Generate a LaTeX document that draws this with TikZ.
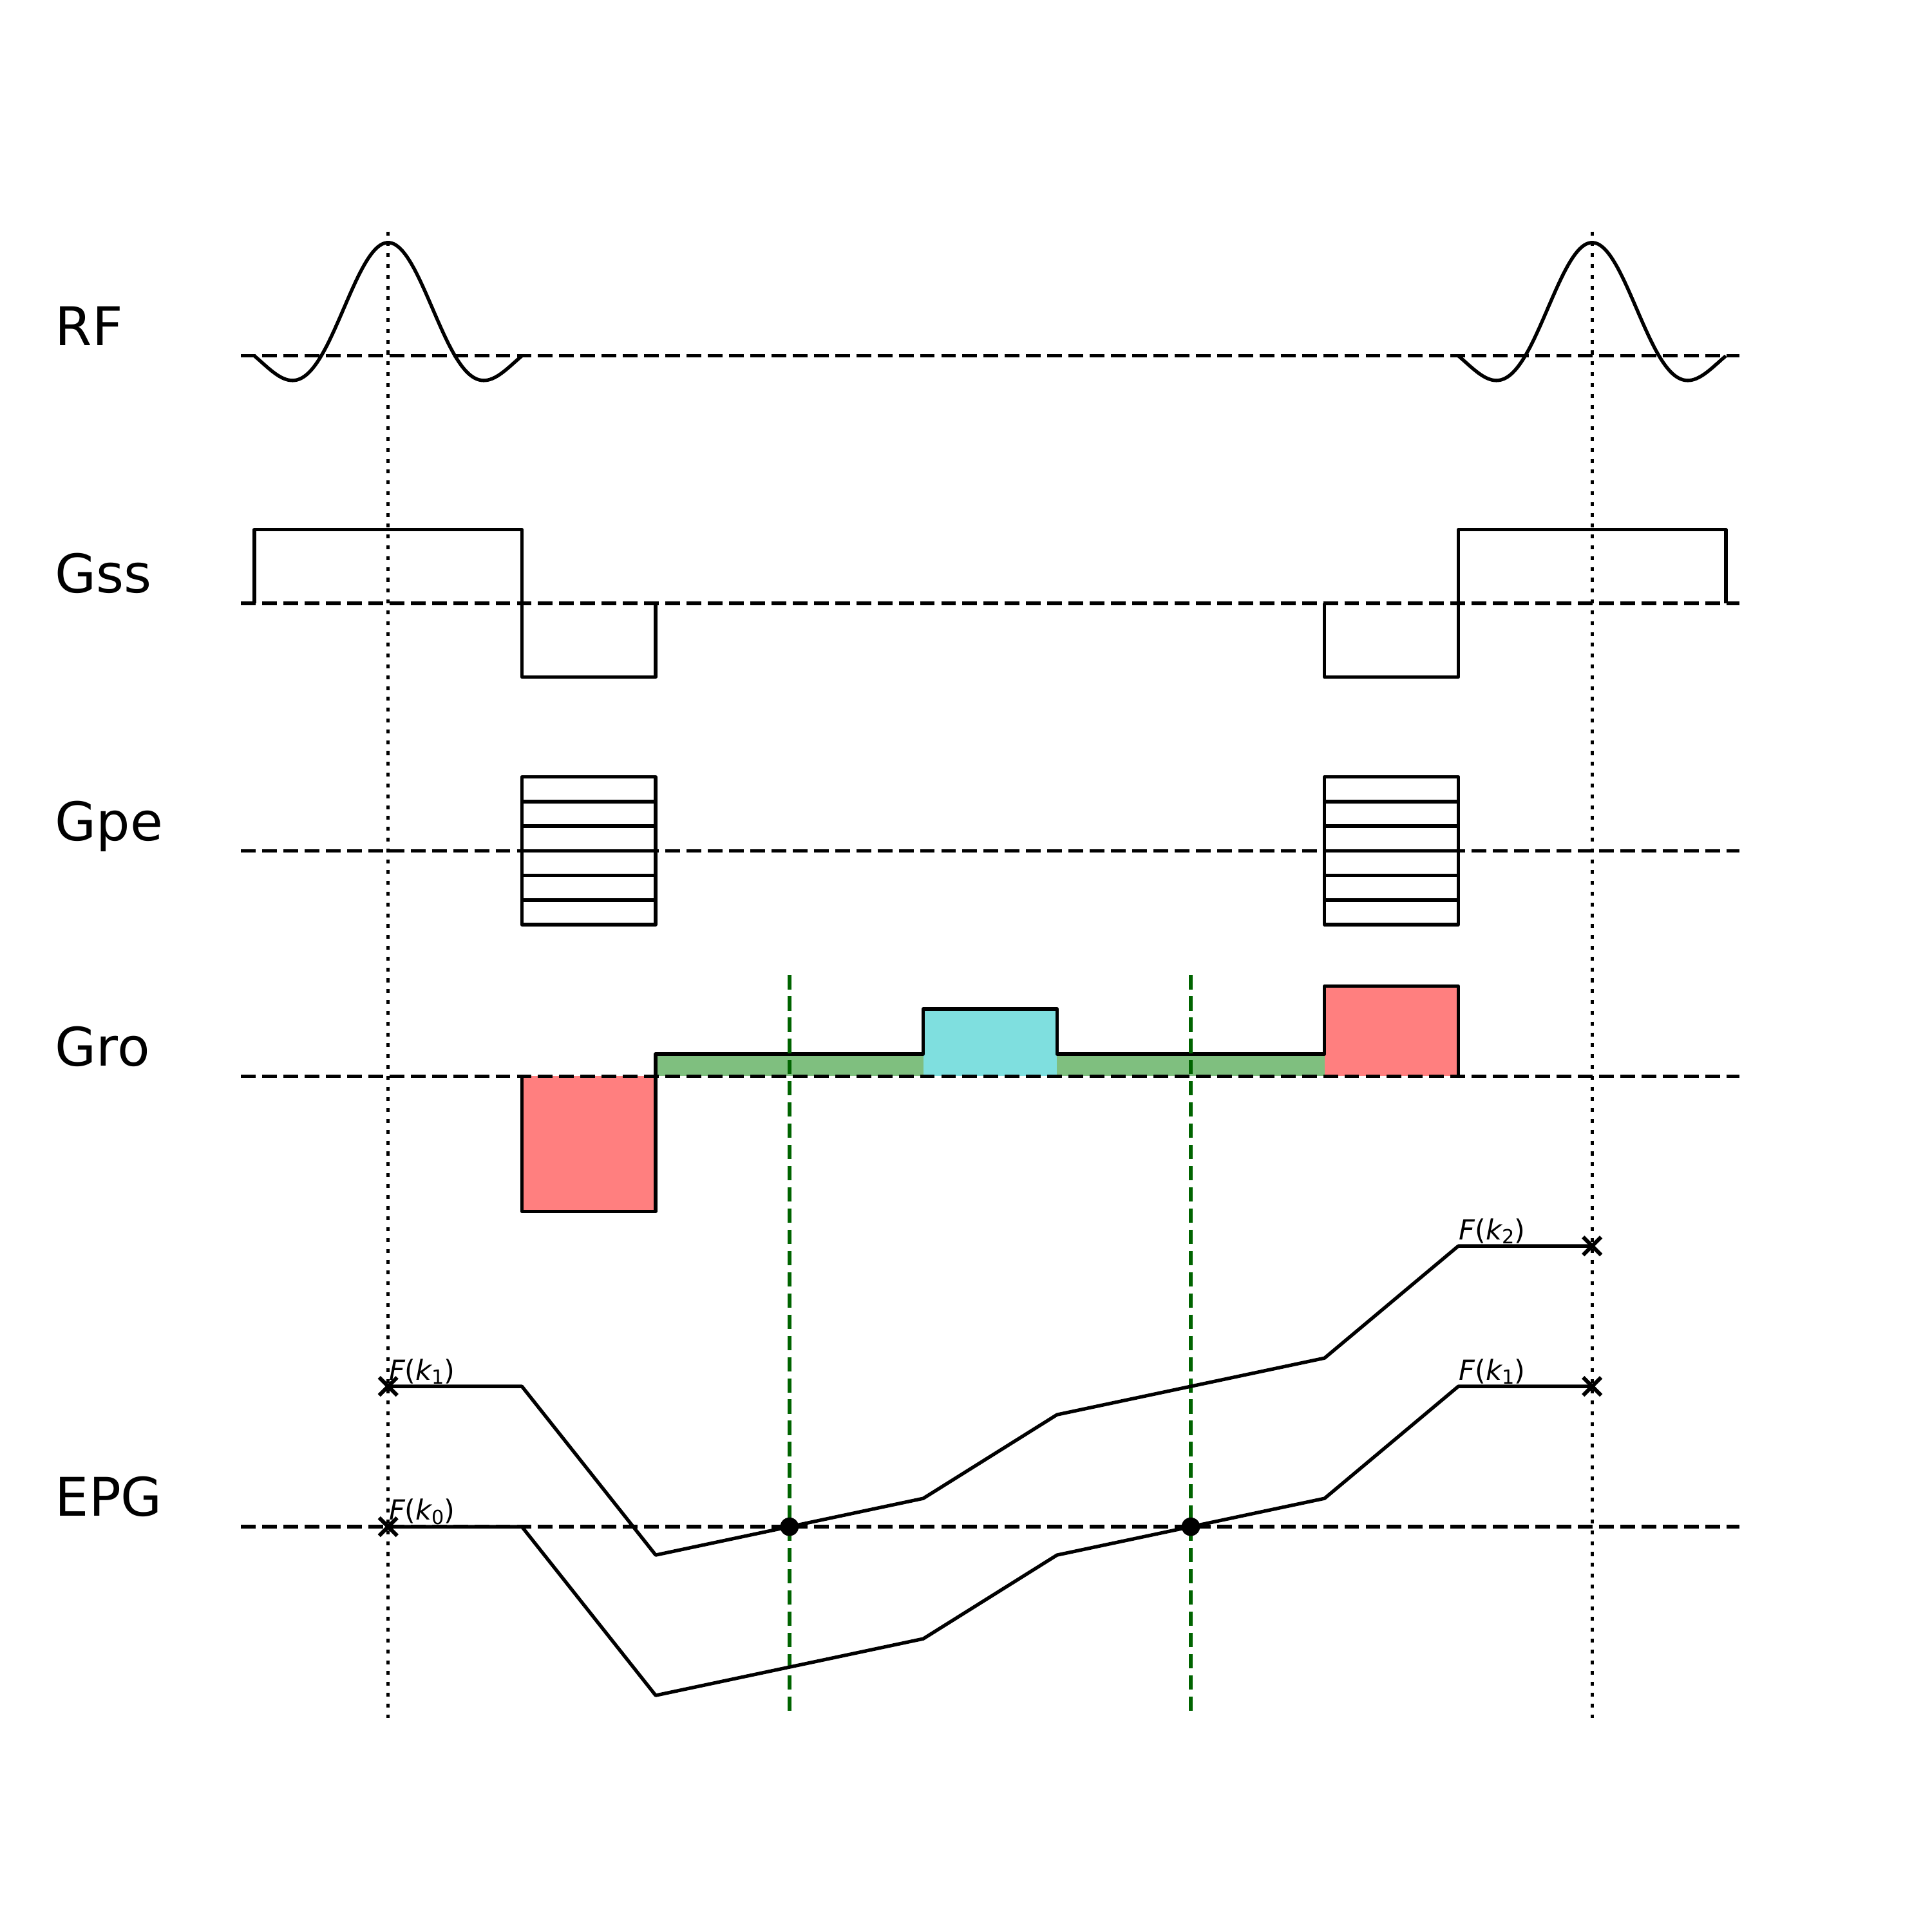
\documentclass[tikz,border=0pt]{standalone}
\usepackage{fontspec}
\setmainfont{DejaVu Sans}
\definecolor{rfill}{HTML}{FF7F7F}
\definecolor{gfill}{HTML}{7FBF7F}
\definecolor{cfill}{HTML}{7FDFDF}
\definecolor{dgreen}{HTML}{006400}
\tikzset{
  wave/.style={line width=0.8pt, line join=round},
  box/.style={line width=0.8pt, line join=round},
  axisline/.style={line width=0.8pt, dash pattern=on 3.4pt off 1.5pt},
  tline/.style={line width=0.8pt, dash pattern=on 0.9pt off 1.6pt},
  gline/.style={dgreen, line width=0.8pt, dash pattern=on 3.3pt off 1.6pt},
  mk/.style={line width=0.9pt},
  biglabel/.style={anchor=base west, inner sep=0pt, font=\fontsize{12.3}{15}\selectfont},
  smalllabel/.style={anchor=south west, inner sep=0pt, font=\fontsize{6.4}{8}\selectfont},
}
\newcommand{\Fk}[1]{{\itshape F}({\itshape k}\raisebox{-0.16em}{\fontsize{4.5}{5}\selectfont #1})}
\begin{document}
\begin{tikzpicture}
\begin{scope}[xshift=3.15cm, x=1.0857cm, y=-0.01cm]
\useasboundingbox (-2.9014,0) rectangle (11.5410,1568);

% row labels
\node[biglabel] (lRF)  at (-2.495,280.5) {RF};
\node[biglabel] (lGss) at (-2.495,481.5) {Gss};
\node[biglabel] (lGpe) at (-2.495,682.5) {Gpe};
\node[biglabel] (lGro) at (-2.495,865.5) {Gro};
\node[biglabel] (lEPG) at (-2.495,1231.5) {EPG};

% baselines
\foreach \y/\n in {289/bRF,490/bGss,691/bGpe,874/bGro,1240/bEPG}{
  \coordinate (\n a) at (-1.1,\y);
  \coordinate (\n b) at (10.1,\y);
  \draw[axisline] (\n a) -- (\n b);
}

% time markers (dotted)
\coordinate (ta) at (0,188); \coordinate (tb) at (0,1395);
\coordinate (tc) at (9,188); \coordinate (td) at (9,1395);
\draw[tline] (ta) -- (tb);
\draw[tline] (tc) -- (td);

% echo markers (green dashed)
\coordinate (ea) at (3,792); \coordinate (eb) at (3,1395);
\coordinate (ec) at (6,792); \coordinate (ed) at (6,1395);

% RF pulses
\draw[wave] plot[domain=-1:1, samples=120] (\x,{289-92*sin(360*\x)/(2*pi*\x)});
\draw[wave] plot[domain=8:10, samples=120] (\x,{289-92*sin(360*(\x-9))/(2*pi*(\x-9))});

% Gss
\draw[box] (-1,490) -- (-1,430) -- (1,430) -- (1,550) -- (2,550) -- (2,490);
\draw[box] (7,490) -- (7,550) -- (8,550) -- (8,430) -- (10,430) -- (10,490);

% Gpe
\foreach \t in {1,7}{
  \draw[box] (\t,631) rectangle (\t+1,751);
  \foreach \y in {651,671,691,711,731}{
    \draw[box] (\t,\y) -- (\t+1,\y);
  }
}

% Gro fills
\fill[rfill] (1,874) rectangle (2,984);
\fill[gfill] (2,874) rectangle (4,856);
\fill[cfill] (4,874) rectangle (5,819.5);
\fill[gfill] (5,874) rectangle (7,856);
\fill[rfill] (7,874) rectangle (8,801);
\draw[axisline] (bGroa) -- (bGrob);
\draw[box] (1,874) -- (1,984) -- (2,984) -- (2,856) -- (4,856) -- (4,819.5) -- (5,819.5) -- (5,856) -- (7,856) -- (7,801) -- (8,801) -- (8,874);
\draw[gline] (ea) -- (eb);
\draw[gline] (ec) -- (ed);

% EPG paths
\coordinate (u0) at (0,1126);
\coordinate (u9) at (9,1012);
\coordinate (w0) at (0,1240);
\coordinate (w9) at (9,1126);
\coordinate (d1) at (3,1240);
\coordinate (d2) at (6,1240);
\draw[wave] (u0) -- (1,1126) -- (2,1263) -- (4,1217) -- (5,1149) -- (7,1103) -- (8,1012) -- (u9);
\draw[wave] (w0) -- (1,1240) -- (2,1377) -- (4,1331) -- (5,1263) -- (7,1217) -- (8,1126) -- (w9);

% dots
\fill (d1) circle[radius=0.075cm];
\fill (d2) circle[radius=0.075cm];

% crosses
\foreach \p in {u0,w0,u9,w9}{
  \draw[mk] (\p) +(-0.073cm,-0.073cm) -- +(0.073cm,0.073cm);
  \draw[mk] (\p) +(-0.073cm,0.073cm) -- +(0.073cm,-0.073cm);
}

% EPG labels
\node[smalllabel] (fa) at (0,1125) {\Fk{1}};
\node[smalllabel] (fb) at (0,1239) {\Fk{0}};
\node[smalllabel] (fc) at (8,1011) {\Fk{2}};
\node[smalllabel] (fd) at (8,1125) {\Fk{1}};
\end{scope}
\end{tikzpicture}
\end{document}
